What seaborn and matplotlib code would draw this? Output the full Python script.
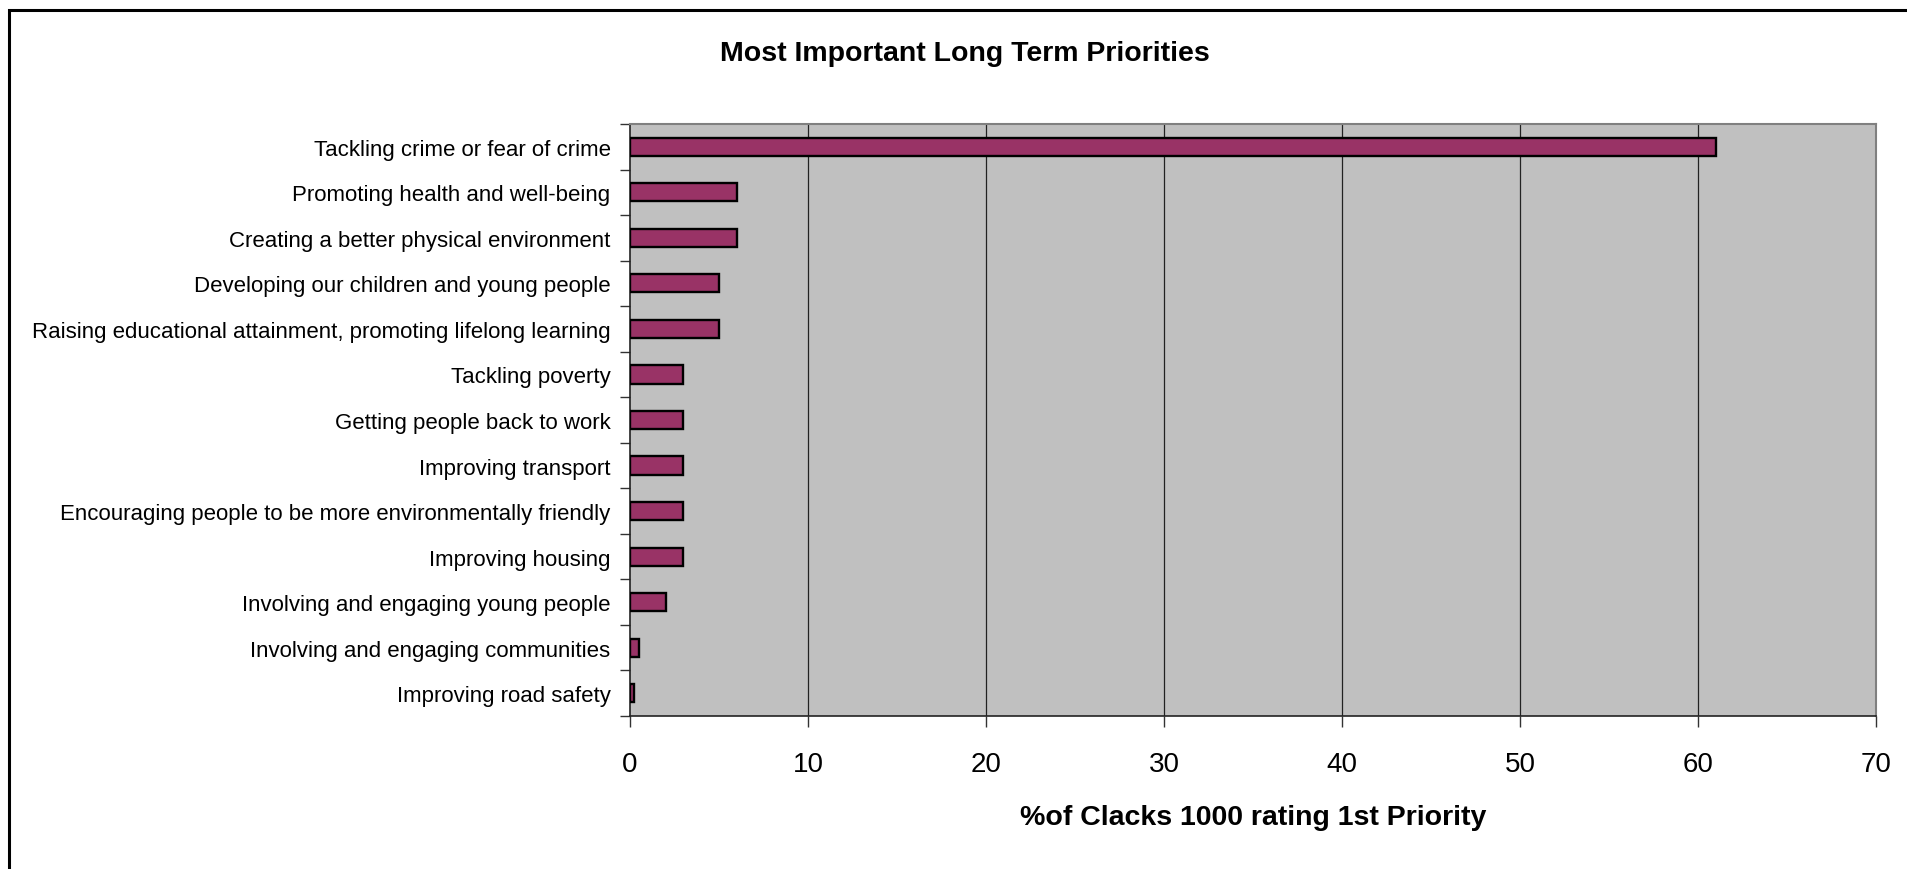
import matplotlib
matplotlib.use("Agg")
import matplotlib.pyplot as plt
import seaborn as sns
import pandas as pd
from matplotlib.patches import Rectangle
from matplotlib.ticker import FixedLocator

# Chart values
priorities = [
    "Tackling crime or fear of crime",
    "Promoting health and well-being",
    "Creating a better physical environment",
    "Developing our children and young people",
    "Raising educational attainment, promoting lifelong learning",
    "Tackling poverty",
    "Getting people back to work",
    "Improving transport",
    "Encouraging people to be more environmentally friendly",
    "Improving housing",
    "Involving and engaging young people",
    "Involving and engaging communities",
    "Improving road safety",
]
pct_first = [61, 6, 6, 5, 5, 3, 3, 3, 3, 3, 2, 0.5, 0.25]
x_ticks = [0, 10, 20, 30, 40, 50, 60, 70]

df = pd.DataFrame({"priority": priorities, "pct": pct_first})

sns.set_style("white")
plt.rcParams["font.family"] = ["Liberation Sans", "DejaVu Sans"]
plt.rcParams["text.color"] = "black"
plt.rcParams["axes.labelcolor"] = "black"
plt.rcParams["xtick.color"] = "black"
plt.rcParams["ytick.color"] = "black"

W, H = 1907, 870
fig = plt.figure(figsize=(W / 100, H / 100), dpi=100)
ax = fig.add_axes([630 / W, 1 - 717 / H, (1876 - 630) / W, (717 - 125) / H])
ax.set_facecolor("#C0C0C0")

sns.barplot(data=df, x="pct", y="priority", orient="h", color="#993366",
            saturation=1, width=0.4, edgecolor="black", linewidth=1.7, ax=ax, zorder=3)

ax.set_xlim(0, 70)
ax.set_ylim(len(priorities) - 0.5, -0.5)
ax.set_xticks(x_ticks)
ax.set_xticklabels([str(t) for t in x_ticks], fontsize=20)
ax.tick_params(axis="x", bottom=True, length=8, width=1, color="#333333", pad=17, direction="out")
ax.tick_params(axis="y", which="major", left=False, length=0, pad=14, labelsize=16)
ax.yaxis.set_minor_locator(FixedLocator([i - 0.5 for i in range(len(priorities) + 1)]))
ax.tick_params(axis="y", which="minor", left=True, length=7, width=1, color="#333333", direction="out")

for t in x_ticks[1:-1]:
    ax.axvline(t, color="#222222", linewidth=0.9, zorder=1)

for side in ["top", "right"]:
    ax.spines[side].set_color("#808080")
    ax.spines[side].set_linewidth(1.5)
for side in ["left", "bottom"]:
    ax.spines[side].set_color("#222222")
    ax.spines[side].set_linewidth(1.2)

ax.set_ylabel("")
ax.set_xlabel("%of Clacks 1000 rating 1st Priority", fontsize=20.5, fontweight="bold", labelpad=20)

fig.text(965 / W, 1 - 54 / H, "Most Important Long Term Priorities",
         ha="center", va="center", fontsize=20.5, fontweight="bold")

# outer chart frame
fig.patches.append(Rectangle((9 / W, -0.1), 1.2, 1.1 - 11 / H, transform=fig.transFigure,
                             fill=False, edgecolor="black", linewidth=2.2))

fig.savefig("out.png", dpi=100)
